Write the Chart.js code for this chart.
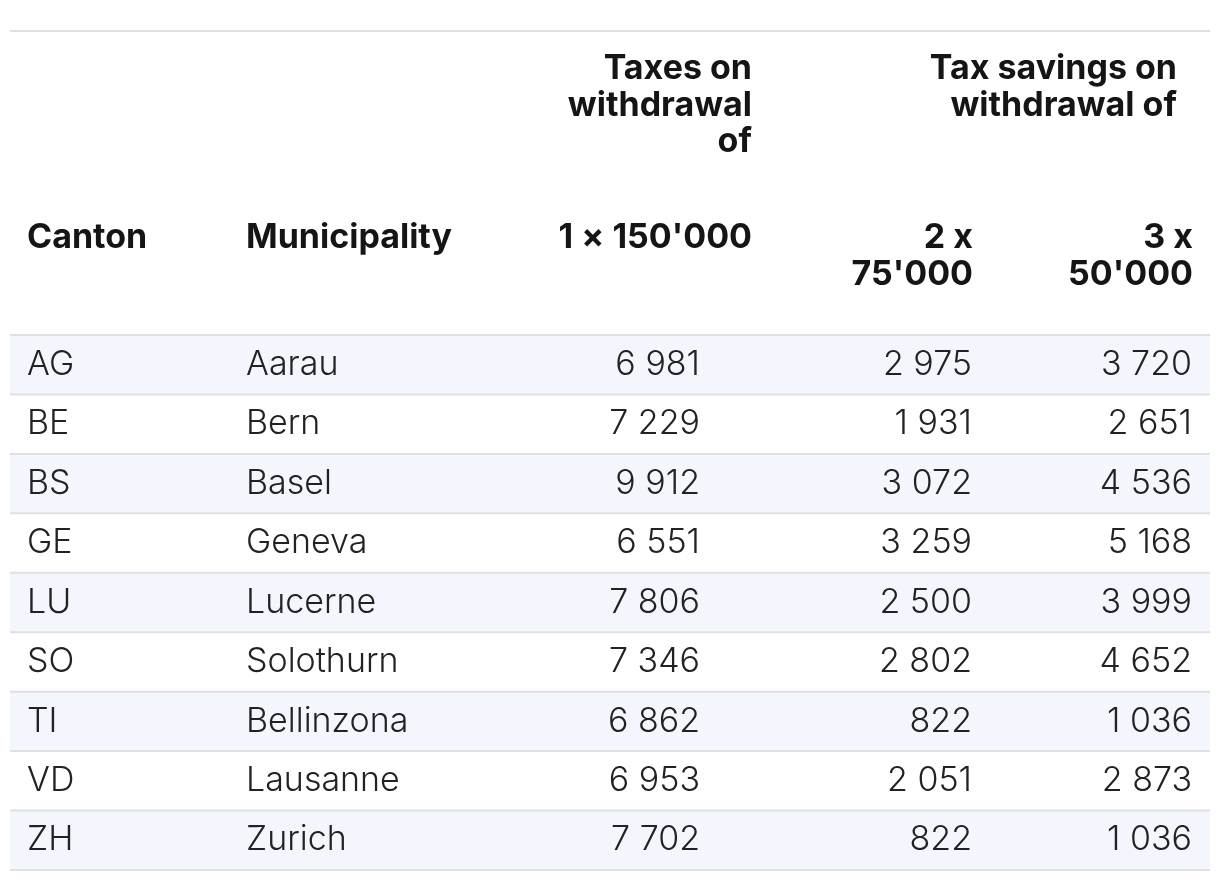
<!DOCTYPE html>
<html>
<head>
<meta charset="utf-8">
<script src="https://cdn.jsdelivr.net/npm/chart.js@4.4.1/dist/chart.umd.min.js"></script>
<style>
    html, body { margin: 0; padding: 0; background: #ffffff; }
    #wrap { width: 1220px; height: 882px; position: relative; }
</style>
</head>
<body>
<div id="wrap"><canvas id="table"></canvas></div>
<script>
// table data
const cantons = ['AG', 'BE', 'BS', 'GE', 'LU', 'SO', 'TI', 'VD', 'ZH'];
const municipalities = ['Aarau', 'Bern', 'Basel', 'Geneva', 'Lucerne', 'Solothurn', 'Bellinzona', 'Lausanne', 'Zurich'];
const taxOnce = [6981, 7229, 9912, 6551, 7806, 7346, 6862, 6953, 7702];
const saving2 = [2975, 1931, 3072, 3259, 2500, 2802, 822, 2051, 822];
const saving3 = [3720, 2651, 4536, 5168, 3999, 4652, 1036, 2873, 1036];

const headCanton = 'Canton';
const headMunicipality = 'Municipality';
const headTaxes = ['Taxes on', 'withdrawal', 'of'];
const headSavings = ['Tax savings on', 'withdrawal of'];
const headCol3 = ["1 \u00d7 150'000"];
const headCol4 = ['2 x', "75'000"];
const headCol5 = ['3 x', "50'000"];

function fmt(v) {
    return String(v).replace(/\B(?=(\d{3})+(?!\d))/g, ' ');
}

const bodyFont = '300 34px Inter';
const headFont = '700 34px Inter';
const lineColor = '#e0e0e0';

// stripes on every other row, drawn as floating bars across the full width
var stripes = cantons.map(function (c, i) {
    return i % 2 === 0 ? [0, 1200] : null;
});

const cellText = {
    id: 'cellText',
    afterDatasetsDraw(chart) {
        var ctx = chart.ctx;
        var x = chart.scales.x;
        var y = chart.scales.y;
        var left = x.getPixelForValue(0);
        var right = x.getPixelForValue(1200);
        var half = (y.getPixelForValue(1) - y.getPixelForValue(0)) / 2;

        ctx.save();
        // row borders
        ctx.strokeStyle = lineColor;
        ctx.lineWidth = 2;
        ctx.beginPath();
        ctx.moveTo(left, 31);
        ctx.lineTo(right, 31);
        for (var i = 0; i < cantons.length; i++) {
            var top = y.getPixelForValue(i) - half;
            ctx.moveTo(left, top);
            ctx.lineTo(right, top);
        }
        var bottom = y.getPixelForValue(cantons.length - 1) + half;
        ctx.moveTo(left, bottom);
        ctx.lineTo(right, bottom);
        ctx.stroke();

        ctx.textBaseline = 'middle';

        // header
        ctx.fillStyle = '#151515';
        ctx.font = headFont;
        ctx.textAlign = 'left';
        ctx.fillText(headCanton, x.getPixelForValue(17), 238);
        ctx.fillText(headMunicipality, x.getPixelForValue(236), 238);
        ctx.textAlign = 'right';
        headTaxes.forEach(function (t, k) {
            ctx.fillText(t, x.getPixelForValue(742), 69 + k * 36.5);
        });
        headSavings.forEach(function (t, k) {
            ctx.fillText(t, x.getPixelForValue(1167), 69 + k * 36.5);
        });
        headCol3.forEach(function (t, k) {
            ctx.fillText(t, x.getPixelForValue(742), 238 + k * 36.5);
        });
        headCol4.forEach(function (t, k) {
            ctx.fillText(t, x.getPixelForValue(963), 238 + k * 36.5);
        });
        headCol5.forEach(function (t, k) {
            ctx.fillText(t, x.getPixelForValue(1183), 238 + k * 36.5);
        });

        // body cells
        ctx.fillStyle = '#222222';
        ctx.font = bodyFont;
        for (var r = 0; r < cantons.length; r++) {
            var cy = y.getPixelForValue(r);
            ctx.textAlign = 'left';
            ctx.fillText(cantons[r], x.getPixelForValue(17), cy);
            ctx.fillText(municipalities[r], x.getPixelForValue(236), cy);
            ctx.textAlign = 'right';
            ctx.fillText(fmt(taxOnce[r]), x.getPixelForValue(690), cy);
            ctx.fillText(fmt(saving2[r]), x.getPixelForValue(962), cy);
            ctx.fillText(fmt(saving3[r]), x.getPixelForValue(1182), cy);
        }
        ctx.restore();
    }
};

var ctx = document.getElementById('table');
var table = new Chart(ctx, {
    type: 'bar',
    data: {
        labels: cantons,
        datasets: [
            {
                data: stripes,
                backgroundColor: '#f3f6fd',
                borderWidth: 0,
                barPercentage: 1,
                categoryPercentage: 1
            }
        ]
    },
    options: {
        indexAxis: 'y',
        responsive: true,
        maintainAspectRatio: false,
        animation: false,
        events: [],
        layout: {
            padding: {left: 10, right: 10, top: 335, bottom: 12}
        },
        plugins: {
            legend: {display: false},
            tooltip: {enabled: false}
        },
        scales: {
            x: {type: 'linear', min: 0, max: 1200, display: false},
            y: {type: 'category', offset: true, display: false}
        }
    },
    plugins: [cellText]
});
</script>
</body>
</html>
